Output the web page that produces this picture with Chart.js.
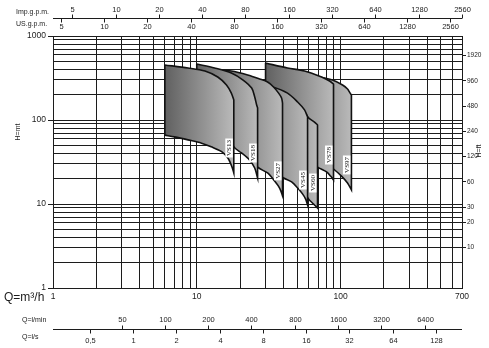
<!DOCTYPE html>
<html>
<head>
<meta charset="utf-8">
<title>VS pump range chart</title>
<script src="https://cdn.jsdelivr.net/npm/chart.js@4.4.1/dist/chart.umd.min.js"></script>
<style>
  html, body { margin: 0; padding: 0; background: #fff; }
  #wrap { width: 489px; height: 348px; }
</style>
</head>
<body>
<div id="wrap"><canvas id="pumpChart" width="489" height="348"></canvas></div>
<script>
// Pump models, front panel first
const models = ['VS13', 'VS18', 'VS27', 'VS45', 'VS60', 'VS78', 'VS97'];

// Upper curve (max stages) of each model: [Q m3/h, H m]
const vs13Top = [[6, 452], [8.7, 416], [11.4, 383], [14, 325], [16.1, 261], [17.4, 209], [18.1, 173]];
const vs18Top = [[10, 464], [13.3, 416], [17.4, 363], [21, 299], [24.1, 240], [25.3, 188], [26.1, 151], [26.5, 139]];
const vs27Top = [[14, 394], [17.4, 383], [22.6, 344], [27.4, 308], [31.1, 283], [34.2, 247], [37.1, 209], [38.9, 183], [39.5, 159]];
const vs45Top = [[21, 268], [27.4, 261], [33.7, 247], [42.8, 209], [50.3, 164], [56.2, 132], [59, 109]];
const vs60Top = [[30.1, 228], [44.3, 183], [56.2, 124], [59.9, 106], [65.9, 94.6], [69.2, 87.1]];
const vs78Top = [[30.1, 477], [42.8, 416], [56.2, 383], [73.8, 325], [83.9, 291], [89.4, 268]];
const vs97Top = [[40.8, 405], [56.2, 363], [73.8, 321], [88, 299], [103.3, 261], [111.9, 234], [115.5, 215], [119.1, 198]];

// Lower curve (min stages) of each model: [Q m3/h, H m]
const vs13Bottom = [[6, 66], [7, 63], [8.7, 58], [10.8, 53], [12.6, 48], [14.9, 42], [16.5, 35], [17.6, 27.5], [18.1, 23.4]];
const vs18Bottom = [[10, 74], [13.3, 68], [16.5, 60], [18.4, 46.4], [20.5, 40.5], [23.3, 33.4], [25.3, 26.8], [26.5, 20.4]];
const vs27Bottom = [[14, 70], [18.1, 56], [21.5, 44], [24.1, 36.3], [26.5, 27.5], [31.1, 23.4], [34.8, 18.8], [37.7, 15.5], [39.5, 12.5]];
const vs45Bottom = [[21, 50.4], [26.5, 33.4], [32.1, 25.4], [40.2, 20.4], [45.7, 18.3], [50.3, 15.5], [54.4, 13.2], [57.1, 11.5], [59, 9.73]];
const vs60Bottom = [[30.1, 33.4], [44.3, 21.5], [54.4, 15], [59.9, 11.5], [64.9, 10], [69.2, 8.96]];
const vs78Bottom = [[30.1, 57.8], [44.3, 44], [60.9, 33.4], [69.2, 27.5], [80, 24.1], [85.3, 21.5], [89.4, 19.3]];
const vs97Bottom = [[40.8, 57.8], [60.9, 41.6], [77.4, 31.6], [89.4, 26.1], [101.6, 21.5], [111.9, 17.8], [119.1, 14.7]];

const tops = [vs13Top, vs18Top, vs27Top, vs45Top, vs60Top, vs78Top, vs97Top];
const bottoms = [vs13Bottom, vs18Bottom, vs27Bottom, vs45Bottom, vs60Bottom, vs78Bottom, vs97Bottom];

// Axis labels
const xLabelTicks = [1, 10, 100, 700];
const yLabelTicks = [1, 10, 100, 1000];
const ftTicks = [10, 20, 30, 60, 120, 240, 480, 960, 1920];
const impTicks = [5, 10, 20, 40, 80, 160, 320, 640, 1280, 2560];
const usTicks = [5, 10, 20, 40, 80, 160, 320, 640, 1280, 2560];
const lminTicks = [50, 100, 200, 400, 800, 1600, 3200, 6400];
const lsTicks = [0.5, 1, 2, 4, 8, 16, 32, 64, 128];

// Unit factors against m3/h and m
const IMP_GPM = 3.666;
const US_GPM = 4.403;
const L_MIN = 16.667;
const L_S = 1 / 3.6;
const FT = 3.281;

const INK = '#1c1c1c';
const SANS = '"Liberation Sans", Arial, sans-serif';

// gridlines at 1..9 of every decade
function decadeGrid(max) {
    const out = [];
    for (let d = 1; d <= max; d *= 10) {
        for (let k = 1; k <= 9; k++) {
            if (k * d <= max) out.push(k * d);
        }
    }
    return out;
}

// closed outline: upper curve, right edge, lower curve back, left edge
// corner points are doubled so the edges stay straight with tension
function outline(top, bottom) {
    const t = top.map(([q, h]) => ({ x: q, y: h }));
    const b = bottom.map(([q, h]) => ({ x: q, y: h })).reverse();
    const pts = [{ ...t[0] }, ...t, { ...t[t.length - 1] }, { ...b[0] }, ...b, { ...b[b.length - 1] }, { ...t[0] }];
    return pts;
}

function panelGradient(chart, top) {
    const x = chart.scales.x;
    if (!chart.chartArea || !x) return '#999';
    const x0 = x.getPixelForValue(top[0][0]);
    const x1 = x.getPixelForValue(top[top.length - 1][0]);
    const g = chart.ctx.createLinearGradient(x0, 0, x1, 0);
    g.addColorStop(0, '#606060');
    g.addColorStop(1, '#bababa');
    return g;
}

const datasets = models.map((name, i) => ({
    label: name,
    data: outline(tops[i], bottoms[i]),
    showLine: true,
    fill: 'shape',
    tension: 0.3,
    borderColor: '#111',
    borderWidth: 1.6,
    pointRadius: 0,
    pointHoverRadius: 0,
    backgroundColor: ctx => panelGradient(ctx.chart, tops[i])
}));

// model names, white boxes on the right edge of each panel
const modelLabels = {
    id: 'modelLabels',
    afterDatasetsDraw(chart) {
        const { ctx, scales: { x, y } } = chart;
        ctx.save();
        ctx.font = '7px "Liberation Serif", "Times New Roman", serif';
        models.forEach((name, i) => {
            const last = bottoms[i][bottoms[i].length - 1];
            const px = x.getPixelForValue(last[0]) - 5;
            const py = y.getPixelForValue(last[1]) - 25;
            const w = ctx.measureText(name).width;
            ctx.save();
            ctx.translate(px, py);
            ctx.rotate(-Math.PI / 2);
            ctx.fillStyle = '#fff';
            ctx.fillRect(-w / 2 - 1.5, -3.5, w + 3, 7.5);
            ctx.fillStyle = '#111';
            ctx.textAlign = 'center';
            ctx.textBaseline = 'middle';
            ctx.fillText(name, 0, 0.5);
            ctx.restore();
        });
        ctx.restore();
    }
};

// extra flow scales (gpm, l/min, l/s) and axis names
const unitAxes = {
    id: 'unitAxes',
    afterDraw(chart) {
        const { ctx, chartArea } = chart;
        ctx.save();
        ctx.strokeStyle = INK;
        ctx.fillStyle = INK;
        ctx.lineWidth = 1;

        function hline(y) {
            ctx.beginPath();
            ctx.moveTo(chartArea.left, y + 0.5);
            ctx.lineTo(chartArea.right, y + 0.5);
            ctx.stroke();
        }
        function row(scaleId, values, lineY, tickDir, labelY, fmt) {
            const s = chart.scales[scaleId];
            ctx.font = '7.5px ' + SANS;
            ctx.textAlign = 'center';
            ctx.textBaseline = 'middle';
            values.forEach(v => {
                const px = Math.round(s.getPixelForValue(v)) + 0.5;
                ctx.beginPath();
                ctx.moveTo(px, lineY + 0.5);
                ctx.lineTo(px, lineY + 0.5 + tickDir * 4);
                ctx.stroke();
                ctx.fillText(fmt ? fmt(v) : String(v), px, labelY);
            });
        }

        hline(18);
        row('imp', impTicks, 18, -1, 10);
        row('us', usTicks, 18, 1, 27);
        hline(329);
        row('lmin', lminTicks, 329, -1, 319.5);
        row('ls', lsTicks, 329, 1, 340.5, v => String(v).replace('.', ','));

        ctx.textAlign = 'left';
        ctx.textBaseline = 'middle';
        ctx.font = '7px ' + SANS;
        ctx.fillText('Imp.g.p.m.', 16, 12);
        ctx.fillText('US.g.p.m.', 16, 24);
        ctx.fillText('Q=l/min', 22, 320);
        ctx.fillText('Q=l/s', 22, 337);

        ctx.font = '12px ' + SANS;
        ctx.fillText('Q=m³/h', 4, 298);

        ctx.font = '7px ' + SANS;
        ctx.textAlign = 'center';
        ctx.save();
        ctx.translate(18, 132);
        ctx.rotate(-Math.PI / 2);
        ctx.fillText('H=mt', 0, 0);
        ctx.restore();
        ctx.save();
        ctx.translate(479, 151);
        ctx.rotate(-Math.PI / 2);
        ctx.fillText('H=ft', 0, 0);
        ctx.restore();
        ctx.restore();
    }
};

function hiddenFlowScale(factor) {
    return { type: 'logarithmic', axis: 'x', display: false, min: 1 * factor, max: 700 * factor };
}

new Chart(document.getElementById('pumpChart'), {
    type: 'scatter',
    data: { datasets },
    options: {
        responsive: false,
        animation: false,
        devicePixelRatio: 1,
        events: [],
        layout: { padding: { top: 36, left: 0, right: 0, bottom: 0 } },
        plugins: {
            legend: { display: false },
            tooltip: { enabled: false },
            filler: { drawTime: 'beforeDatasetDraw' }
        },
        scales: {
            x: {
                type: 'logarithmic',
                position: 'bottom',
                min: 1,
                max: 700,
                afterBuildTicks: s => { s.ticks = decadeGrid(700).map(v => ({ value: v })); },
                afterFit: s => { s.height = 60; },
                grid: { color: INK, lineWidth: 1, drawTicks: false },
                border: { color: INK, width: 1 },
                ticks: {
                    autoSkip: false,
                    maxRotation: 0,
                    padding: 4,
                    color: INK,
                    font: { family: SANS, size: 8.5 },
                    callback: v => xLabelTicks.includes(v) ? String(v) : ''
                }
            },
            y: {
                type: 'logarithmic',
                position: 'left',
                min: 1,
                max: 1000,
                afterBuildTicks: s => { s.ticks = decadeGrid(1000).map(v => ({ value: v })); },
                afterFit: s => { s.width = 53; },
                grid: {
                    color: INK,
                    lineWidth: 1,
                    tickLength: 5,
                    tickColor: c => (c.tick && yLabelTicks.includes(c.tick.value)) ? INK : 'rgba(0,0,0,0)'
                },
                border: { color: INK, width: 1 },
                ticks: {
                    autoSkip: false,
                    padding: 2,
                    color: INK,
                    font: { family: SANS, size: 8.5 },
                    callback: v => yLabelTicks.includes(v) ? String(v) : ''
                }
            },
            yft: {
                type: 'logarithmic',
                position: 'right',
                min: 1 * FT,
                max: 1000 * FT,
                afterBuildTicks: s => { s.ticks = ftTicks.map(v => ({ value: v })); },
                afterFit: s => { s.width = 27; },
                grid: { drawOnChartArea: false, tickLength: 4, color: INK },
                border: { color: INK, width: 1 },
                ticks: {
                    autoSkip: false,
                    padding: 1,
                    color: INK,
                    font: { family: SANS, size: 6.5 },
                    callback: v => String(v)
                }
            },
            imp: hiddenFlowScale(IMP_GPM),
            us: hiddenFlowScale(US_GPM),
            lmin: hiddenFlowScale(L_MIN),
            ls: hiddenFlowScale(L_S)
        }
    },
    plugins: [modelLabels, unitAxes]
});
</script>
</body>
</html>
